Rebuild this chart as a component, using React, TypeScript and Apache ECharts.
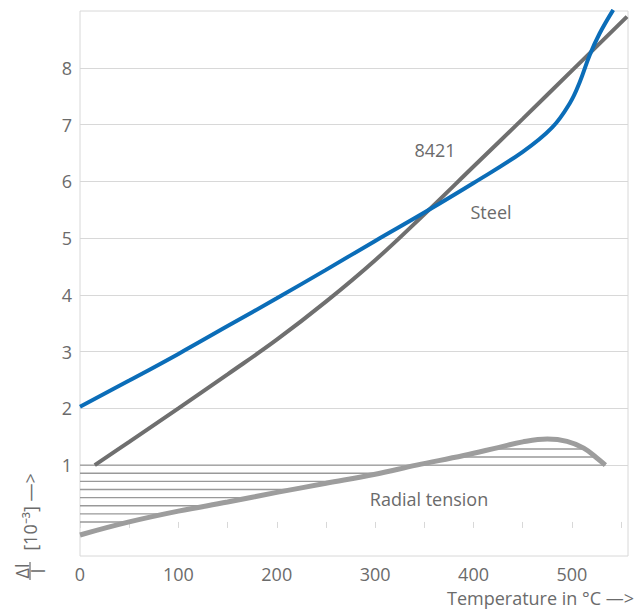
import React, { useEffect, useRef } from "react";
import * as echarts from "echarts";

// Temperature (°C) samples and ΔL/L values (10^-3)
const steelT = [0, 50, 100, 150, 200, 250, 300, 350, 400, 450, 480, 498, 508, 518, 528, 542];
const steelV = [2.03, 2.49, 2.96, 3.45, 3.94, 4.44, 4.95, 5.45, 5.97, 6.52, 6.95, 7.38, 7.75, 8.22, 8.6, 9.02];

const alloyT = [15, 50, 100, 150, 200, 250, 300, 350, 400, 450, 500, 556];
const alloyV = [1.0, 1.41, 2.0, 2.6, 3.21, 3.88, 4.61, 5.42, 6.26, 7.1, 7.95, 8.9];

const radialT = [0, 50, 100, 150, 200, 250, 300, 342, 390, 425, 450, 475, 495, 512, 525, 534];
const radialV = [-0.23, 0.0, 0.19, 0.35, 0.52, 0.68, 0.84, 1.0, 1.17, 1.31, 1.41, 1.46, 1.42, 1.3, 1.13, 1.0];

const hatchLevels = [0, 1, 2, 3, 4, 5, 6, 7, 8, 9].map((k) => k / 7);

const yTicks = [1, 2, 3, 4, 5, 6, 7, 8];
const xTickStep = 50;
const xLabelStep = 100;

const TEXT = "#6b6b6b";
const GRID = "#d8d8d8";
const FONT = "Open Sans";
const FS = 18;

function zip(t: number[], v: number[]) {
  return t.map((x, i) => [x, v[i]]);
}

function hatchSegments(L: number): number[][] {
  const n = radialT.length;
  if (Math.abs(L - 1) < 1e-9) return [[radialT[0], radialT[n - 1]]];
  const inside = (v: number) => (L < 1 ? v < L : v > L);
  const out: number[][] = [];
  let start: number | null = inside(radialV[0]) ? radialT[0] : null;
  for (let i = 1; i < n; i++) {
    const ia = inside(radialV[i - 1]);
    const ib = inside(radialV[i]);
    if (ia !== ib) {
      const a = radialV[i - 1] - L;
      const b = radialV[i] - L;
      const t = radialT[i - 1] + (radialT[i] - radialT[i - 1]) * (a / (a - b));
      if (ib) start = t;
      else if (start !== null) {
        out.push([start, t]);
        start = null;
      }
    }
  }
  if (start !== null) out.push([start, radialT[n - 1]]);
  return out;
}

export default function App() {
  const ref = useRef<HTMLDivElement>(null);
  useEffect(() => {
    if (!ref.current) return;
    const chart = echarts.init(ref.current, null, { renderer: "svg" });
    const textStyle = { fill: TEXT, fontSize: FS, fontFamily: FONT };
    chart.setOption({
      animation: false,
      backgroundColor: "#fff",
      grid: {
        left: 80,
        right: 11,
        top: 11,
        bottom: 53,
        show: true,
        borderColor: GRID,
        borderWidth: 1,
      },
      xAxis: {
        type: "value",
        min: 0,
        max: 557,
        interval: xTickStep,
        axisLine: { show: false },
        axisTick: { show: true, length: 6, lineStyle: { color: GRID } },
        splitLine: { show: false },
        axisLabel: {
          color: TEXT,
          fontSize: FS,
          fontFamily: FONT,
          margin: 9,
          showMaxLabel: false,
          formatter: (v: number) => (v % xLabelStep === 0 ? String(v) : ""),
        },
      },
      yAxis: {
        type: "value",
        min: -0.6,
        max: 9,
        axisLine: { show: false },
        axisTick: { show: false, customValues: yTicks },
        splitLine: { show: false },
        axisLabel: {
          customValues: yTicks,
          color: TEXT,
          fontSize: FS,
          fontFamily: FONT,
          margin: 8,
        },
      },
      series: [
        {
          type: "custom",
          coordinateSystem: "cartesian2d",
          data: hatchLevels.map((l) => [0, l]),
          encode: { x: 0, y: 1 },
          silent: true,
          clip: true,
          z: 1,
          renderItem: (params: any, api: any) => {
            const L = api.value(1);
            const segs = hatchSegments(L);
            return {
              type: "group",
              children: segs.map(([a, b]) => {
                const p1 = api.coord([a, L]);
                const p2 = api.coord([b, L]);
                return {
                  type: "line",
                  shape: { x1: p1[0], y1: p1[1], x2: p2[0], y2: p2[1] },
                  style: { stroke: "#999999", lineWidth: 1.4 },
                };
              }),
            };
          },
        },
        {
          name: "Radial tension",
          type: "line",
          data: zip(radialT, radialV),
          smooth: 0.4,
          symbol: "none",
          z: 3,
          lineStyle: { color: "#9d9d9d", width: 5 },
          markLine: {
            silent: true,
            z: 0,
            symbol: "none",
            label: { show: false },
            lineStyle: { color: GRID, width: 1, type: "solid" },
            data: yTicks.map((v) => ({ yAxis: v })),
          },
        },
        {
          name: "8421",
          type: "line",
          data: zip(alloyT, alloyV),
          smooth: 0.4,
          symbol: "none",
          z: 3,
          lineStyle: { color: "#6f6f6f", width: 4 },
        },
        {
          name: "Steel",
          type: "line",
          data: zip(steelT, steelV),
          smooth: 0.4,
          symbol: "none",
          z: 4,
          lineStyle: { color: "#0b6db8", width: 4 },
        },
      ],
      graphic: [
        { type: "text", x: 435, y: 150, style: { ...textStyle, text: "8421", align: "center", verticalAlign: "middle" } },
        { type: "text", x: 491, y: 212, style: { ...textStyle, text: "Steel", align: "center", verticalAlign: "middle" } },
        { type: "text", x: 429, y: 499, style: { ...textStyle, text: "Radial tension", align: "center", verticalAlign: "middle" } },
        { type: "text", x: 634, y: 598, style: { ...textStyle, text: "Temperature in °C —>", align: "right", verticalAlign: "middle" } },
        { type: "text", x: 30, y: 512, rotation: Math.PI / 2, style: { ...textStyle, text: "[10⁻³] —>", align: "center", verticalAlign: "middle" } },
        { type: "text", x: 22, y: 571, rotation: Math.PI / 2, style: { ...textStyle, text: "Δl", align: "center", verticalAlign: "middle" } },
        { type: "line", shape: { x1: 30, y1: 562, x2: 30, y2: 580 }, style: { stroke: TEXT, lineWidth: 1.2 } },
        { type: "text", x: 38, y: 571, rotation: Math.PI / 2, style: { ...textStyle, text: "l", align: "center", verticalAlign: "middle" } },
      ],
    });
    return () => chart.dispose();
  }, []);
  return <div ref={ref} style={{ position: "absolute", left: 0, top: 0, width: 639, height: 609 }} />;
}
